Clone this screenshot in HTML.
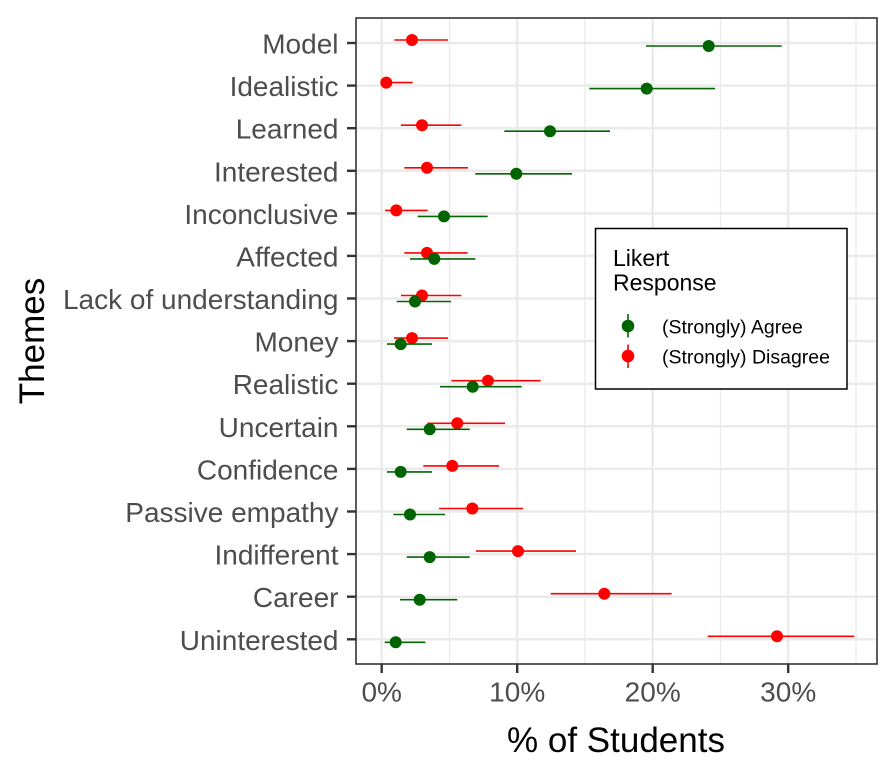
<!DOCTYPE html>
<html>
<head>
<meta charset="utf-8">
<style>
html,body{margin:0;padding:0;background:#fff;}
svg{display:block;}
text{font-family:"Liberation Sans",Arial,Helvetica,sans-serif;}
</style>
</head>
<body>
<svg width="896" height="768" viewBox="0 0 896 768" xmlns="http://www.w3.org/2000/svg">
<rect x="0" y="0" width="896" height="768" fill="#fff"/>
<!-- panel background -->
<rect x="356" y="18" width="521" height="646" fill="#fff"/>
<!-- minor vertical grid -->
<g stroke="#EBEBEB" stroke-width="1.3">
<line x1="449.5" y1="18" x2="449.5" y2="664"/>
<line x1="585" y1="18" x2="585" y2="664"/>
<line x1="720.5" y1="18" x2="720.5" y2="664"/>
<line x1="856" y1="18" x2="856" y2="664"/>
</g>
<!-- major vertical grid -->
<g stroke="#EBEBEB" stroke-width="2.5">
<line x1="381.7" y1="18" x2="381.7" y2="664"/>
<line x1="517.2" y1="18" x2="517.2" y2="664"/>
<line x1="652.7" y1="18" x2="652.7" y2="664"/>
<line x1="788.2" y1="18" x2="788.2" y2="664"/>
</g>
<!-- major horizontal grid -->
<g stroke="#EBEBEB" stroke-width="2.5">
<line x1="356" y1="43" x2="877" y2="43"/>
<line x1="356" y1="85.6" x2="877" y2="85.6"/>
<line x1="356" y1="128.2" x2="877" y2="128.2"/>
<line x1="356" y1="170.8" x2="877" y2="170.8"/>
<line x1="356" y1="213.4" x2="877" y2="213.4"/>
<line x1="356" y1="255.9" x2="877" y2="255.9"/>
<line x1="356" y1="298.5" x2="877" y2="298.5"/>
<line x1="356" y1="341.1" x2="877" y2="341.1"/>
<line x1="356" y1="383.7" x2="877" y2="383.7"/>
<line x1="356" y1="426.3" x2="877" y2="426.3"/>
<line x1="356" y1="468.9" x2="877" y2="468.9"/>
<line x1="356" y1="511.5" x2="877" y2="511.5"/>
<line x1="356" y1="554.1" x2="877" y2="554.1"/>
<line x1="356" y1="596.7" x2="877" y2="596.7"/>
<line x1="356" y1="639.3" x2="877" y2="639.3"/>
</g>

<!-- red series (Strongly Disagree), offset -3 -->
<g stroke="#FF0000" stroke-width="1.6" fill="none">
<line x1="394.3" y1="40" x2="448" y2="40"/>
<line x1="381.5" y1="82.6" x2="412.7" y2="82.6"/>
<line x1="401" y1="125.2" x2="461.3" y2="125.2"/>
<line x1="404.3" y1="167.8" x2="468" y2="167.8"/>
<line x1="385" y1="210.4" x2="427.7" y2="210.4"/>
<line x1="404.3" y1="252.9" x2="467.7" y2="252.9"/>
<line x1="401" y1="295.5" x2="461.3" y2="295.5"/>
<line x1="394" y1="338.1" x2="448" y2="338.1"/>
<line x1="451.3" y1="380.7" x2="540.7" y2="380.7"/>
<line x1="427.3" y1="423.3" x2="505" y2="423.3"/>
<line x1="423.3" y1="465.9" x2="499" y2="465.9"/>
<line x1="439" y1="508.5" x2="523" y2="508.5"/>
<line x1="476" y1="551.1" x2="576" y2="551.1"/>
<line x1="550.7" y1="593.7" x2="671.7" y2="593.7"/>
<line x1="707.7" y1="636.3" x2="854.3" y2="636.3"/>
</g>
<g fill="#FF0000">
<circle cx="412" cy="40" r="6"/>
<circle cx="386.3" cy="82.6" r="6"/>
<circle cx="422" cy="125.2" r="6"/>
<circle cx="427" cy="167.8" r="6"/>
<circle cx="396.3" cy="210.4" r="6"/>
<circle cx="427" cy="252.9" r="6"/>
<circle cx="422" cy="295.5" r="6"/>
<circle cx="412" cy="338.1" r="6"/>
<circle cx="488" cy="380.7" r="6"/>
<circle cx="457.3" cy="423.3" r="6"/>
<circle cx="452.3" cy="465.9" r="6"/>
<circle cx="472.3" cy="508.5" r="6"/>
<circle cx="518" cy="551.1" r="6"/>
<circle cx="604.3" cy="593.7" r="6"/>
<circle cx="777" cy="636.3" r="6"/>
</g>

<!-- green series (Strongly Agree), offset +3 -->
<g stroke="#006400" stroke-width="1.6" fill="none">
<line x1="646" y1="46" x2="781.7" y2="46"/>
<line x1="589.3" y1="88.6" x2="715" y2="88.6"/>
<line x1="504.3" y1="131.2" x2="610" y2="131.2"/>
<line x1="475.3" y1="173.8" x2="572" y2="173.8"/>
<line x1="417.7" y1="216.4" x2="487.7" y2="216.4"/>
<line x1="410" y1="258.9" x2="475.3" y2="258.9"/>
<line x1="396.7" y1="301.5" x2="451" y2="301.5"/>
<line x1="387" y1="344.1" x2="432" y2="344.1"/>
<line x1="440" y1="386.7" x2="521.7" y2="386.7"/>
<line x1="406.7" y1="429.3" x2="469.7" y2="429.3"/>
<line x1="387" y1="471.9" x2="432" y2="471.9"/>
<line x1="393.3" y1="514.5" x2="445" y2="514.5"/>
<line x1="406.7" y1="557.1" x2="469.7" y2="557.1"/>
<line x1="400" y1="599.7" x2="457.3" y2="599.7"/>
<line x1="384.7" y1="642.3" x2="425.3" y2="642.3"/>
</g>
<g fill="#006400">
<circle cx="708.7" cy="46" r="6"/>
<circle cx="646.7" cy="88.6" r="6"/>
<circle cx="550" cy="131.2" r="6"/>
<circle cx="516.3" cy="173.8" r="6"/>
<circle cx="444" cy="216.4" r="6"/>
<circle cx="434.3" cy="258.9" r="6"/>
<circle cx="415" cy="301.5" r="6"/>
<circle cx="400.7" cy="344.1" r="6"/>
<circle cx="472.7" cy="386.7" r="6"/>
<circle cx="429.7" cy="429.3" r="6"/>
<circle cx="400.7" cy="471.9" r="6"/>
<circle cx="410" cy="514.5" r="6"/>
<circle cx="429.7" cy="557.1" r="6"/>
<circle cx="419.7" cy="599.7" r="6"/>
<circle cx="395.7" cy="642.3" r="6"/>
</g>

<!-- legend -->
<rect x="595.5" y="228.5" width="251.5" height="160.5" fill="#fff" stroke="#000" stroke-width="1.5"/>
<text x="613" y="266" font-size="23" fill="#000">Likert</text>
<text x="613" y="290.7" font-size="23" fill="#000">Response</text>
<line x1="628" y1="314" x2="628" y2="337.5" stroke="#006400" stroke-width="1.6"/>
<circle cx="628" cy="326" r="6.3" fill="#006400"/>
<line x1="628" y1="344.5" x2="628" y2="368" stroke="#FF0000" stroke-width="1.6"/>
<circle cx="628" cy="356" r="6.3" fill="#FF0000"/>
<text x="662" y="333.3" font-size="19.5" fill="#000">(Strongly) Agree</text>
<text x="662" y="363.3" font-size="19.5" fill="#000">(Strongly) Disagree</text>

<!-- panel border -->
<rect x="356" y="18" width="521" height="646" fill="none" stroke="#333333" stroke-width="1.6"/>

<!-- y ticks -->
<g stroke="#333333" stroke-width="2.4">
<line x1="347" y1="43" x2="356" y2="43"/>
<line x1="347" y1="85.6" x2="356" y2="85.6"/>
<line x1="347" y1="128.2" x2="356" y2="128.2"/>
<line x1="347" y1="170.8" x2="356" y2="170.8"/>
<line x1="347" y1="213.4" x2="356" y2="213.4"/>
<line x1="347" y1="255.9" x2="356" y2="255.9"/>
<line x1="347" y1="298.5" x2="356" y2="298.5"/>
<line x1="347" y1="341.1" x2="356" y2="341.1"/>
<line x1="347" y1="383.7" x2="356" y2="383.7"/>
<line x1="347" y1="426.3" x2="356" y2="426.3"/>
<line x1="347" y1="468.9" x2="356" y2="468.9"/>
<line x1="347" y1="511.5" x2="356" y2="511.5"/>
<line x1="347" y1="554.1" x2="356" y2="554.1"/>
<line x1="347" y1="596.7" x2="356" y2="596.7"/>
<line x1="347" y1="639.3" x2="356" y2="639.3"/>
</g>
<!-- x ticks -->
<g stroke="#333333" stroke-width="2.4">
<line x1="381.7" y1="664" x2="381.7" y2="673"/>
<line x1="517.2" y1="664" x2="517.2" y2="673"/>
<line x1="652.7" y1="664" x2="652.7" y2="673"/>
<line x1="788.2" y1="664" x2="788.2" y2="673"/>
</g>

<!-- y labels -->
<g font-size="28" fill="#4D4D4D" text-anchor="end">
<text x="338.5" y="53.5">Model</text>
<text x="338.5" y="96.1">Idealistic</text>
<text x="338.5" y="138.7">Learned</text>
<text x="338.5" y="181.3">Interested</text>
<text x="338.5" y="223.9">Inconclusive</text>
<text x="338.5" y="266.4">Affected</text>
<text x="338.5" y="309">Lack of understanding</text>
<text x="338.5" y="351.6">Money</text>
<text x="338.5" y="394.2">Realistic</text>
<text x="338.5" y="436.8">Uncertain</text>
<text x="338.5" y="479.4">Confidence</text>
<text x="338.5" y="522">Passive empathy</text>
<text x="338.5" y="564.6">Indifferent</text>
<text x="338.5" y="607.2">Career</text>
<text x="338.5" y="649.8">Uninterested</text>
</g>

<!-- x labels -->
<g font-size="28" fill="#4D4D4D" text-anchor="middle">
<text x="381.7" y="701.5">0%</text>
<text x="517.2" y="701.5">10%</text>
<text x="652.7" y="701.5">20%</text>
<text x="788.2" y="701.5">30%</text>
</g>

<!-- axis titles -->
<text x="616" y="752" font-size="35" fill="#000" text-anchor="middle">% of Students</text>
<text transform="translate(44,341) rotate(-90)" font-size="35" fill="#000" text-anchor="middle">Themes</text>
</svg>
</body>
</html>
